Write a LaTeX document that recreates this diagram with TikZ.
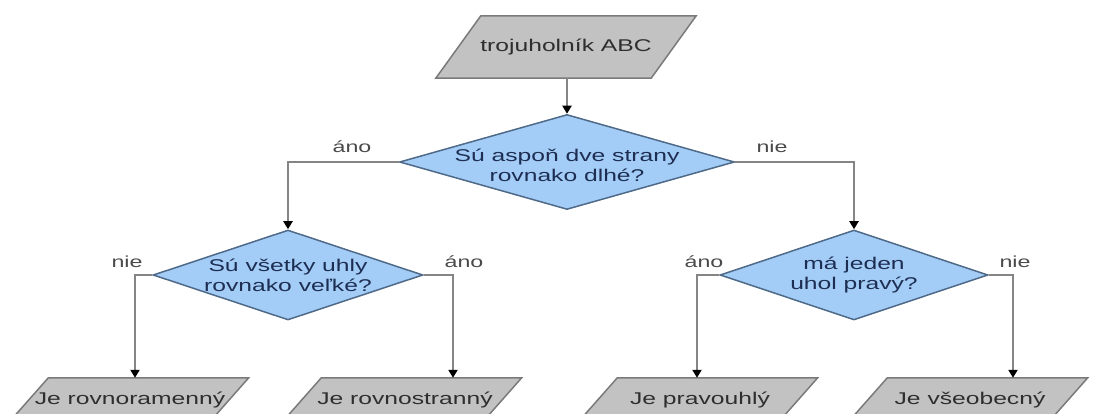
\documentclass[tikz,border=0pt]{standalone}
\usepackage{fontspec}
\newfontfamily\wfont[FakeStretch=1.45]{Liberation Sans}
\usetikzlibrary{shapes.geometric,arrows.meta}
\definecolor{parafill}{HTML}{C2C2C2}
\definecolor{paradraw}{HTML}{7A7A7A}
\definecolor{diafill}{HTML}{A3CDF7}
\definecolor{diadraw}{HTML}{4F6A88}
\definecolor{diatext}{HTML}{1E2E52}
\definecolor{paratext}{HTML}{2E2E2E}
\definecolor{linecol}{HTML}{858585}
\definecolor{labcol}{HTML}{4A4A4A}
\tikzset{
  parabox/.style={rectangle, inner sep=0pt},
  paraline/.style={fill=parafill, draw=paradraw, line width=1.5pt, line join=miter},
  dia/.style={diamond, fill=diafill, draw=diadraw, line width=1.5pt, inner sep=0pt},
  dtext/.style={font=\wfont\fontsize{17}{20}\selectfont, text=diatext, align=center, inner sep=0pt},
  ptext/.style={font=\wfont\fontsize{17}{20}\selectfont, text=paratext, inner sep=0pt},
  lab/.style={font=\wfont\fontsize{16}{19}\selectfont, text=labcol, inner sep=0pt},
  conn/.style={draw=linecol, line width=2pt, -{Triangle[length=8pt,width=9pt,color=black]}},
}
% #1 node name, #2 half slant offset
\newcommand\slantbox[2]{%
  \draw[paraline] ([xshift=#2]#1.north west) -- ([xshift=#2]#1.north east)
    -- ([xshift=-#2]#1.south east) -- ([xshift=-#2]#1.south west) -- cycle;}
\begin{document}
\begin{tikzpicture}[x=1pt,y=-1pt]
\useasboundingbox (0,0) rectangle (1106,414);
% top input
\node[parabox, minimum width=215pt, minimum height=62pt] (top) at (566,47) {};
\slantbox{top}{22.5pt}
\node[ptext] (toptxt) at (566,47) {trojuholník ABC};
% main decision
\node[dia, minimum width=335pt, minimum height=95pt] (d1) at (567,162) {};
\node[dtext] (d1txt) at (567,165) {Sú aspoň dve strany\\rovnako dlhé?};
% second level decisions
\node[dia, minimum width=270pt, minimum height=90pt] (d2) at (288,275) {};
\node[dtext] (d2txt) at (288,275) {Sú všetky uhly\\rovnako veľké?};
\node[dia, minimum width=268pt, minimum height=90pt] (d3) at (854,275) {};
\node[dtext] (d3txt) at (854,275) {má jeden\\uhol pravý?};
% results
\tikzset{res/.style={parabox, minimum width=200pt, minimum height=46pt}}
\node[res] (r1) at (128,401) {};
\slantbox{r1}{20.5pt}
\node[ptext] (r1txt) at (130,400) {Je rovnoramenný};
\node[res] (r2) at (401,401) {};
\slantbox{r2}{20.5pt}
\node[ptext] (r2txt) at (405,400) {Je rovnostranný};
\node[res] (r3) at (697,401) {};
\slantbox{r3}{20.5pt}
\node[ptext] (r3txt) at (700,400) {Je pravouhlý};
\node[res] (r4) at (967,401) {};
\slantbox{r4}{20.5pt}
\node[ptext] (r4txt) at (970,400) {Je všeobecný};
% labels
\node[lab] (l1) at (352,147) {áno};
\node[lab] (l2) at (772,147) {nie};
\node[lab] (l3) at (127,262) {nie};
\node[lab] (l4) at (464,262) {áno};
\node[lab] (l5) at (704,262) {áno};
\node[lab] (l6) at (1015,262) {nie};
% connectors
\draw[conn] (top.south -| d1.north) -- (d1.north);
\draw[conn] (d1.west) -| (d2.north);
\draw[conn] (d1.east) -| (d3.north);
\draw[conn] (d2.west) -| ([xshift=7pt]r1.north);
\draw[conn] (d2.east) -| ([xshift=52pt]r2.north);
\draw[conn] (d3.west) -| (r3.north);
\draw[conn] (d3.east) -| ([xshift=46pt]r4.north);
\end{tikzpicture}
\end{document}
